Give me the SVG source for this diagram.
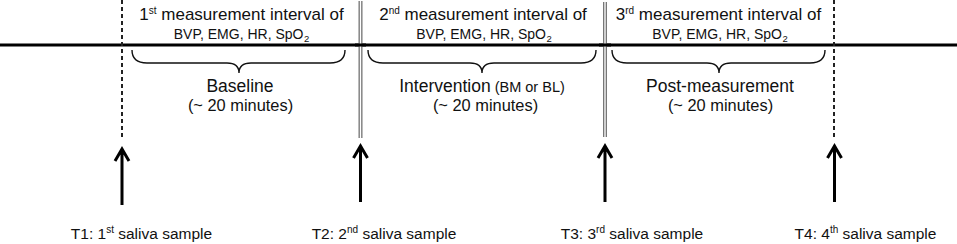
<svg xmlns="http://www.w3.org/2000/svg" width="957" height="244" viewBox="0 0 957 244">
<defs>
<style>
text{font-family:"Liberation Sans",Arial,sans-serif;fill:#111;text-anchor:middle}
.l1{font-size:17px}
.l2{font-size:14px}
.big{font-size:17.5px}
.small{font-size:14.5px}
.dur{font-size:16.4px}
.lab{font-size:15.5px}
.sup{font-size:10px}
.sub{font-size:9.5px}
.brace{fill:none;stroke:#111;stroke-width:1.4}
.dash{stroke:#222;stroke-width:2;stroke-dasharray:4 3}
.dbl-o{stroke:#777;stroke-width:4}
.dbl-i{stroke:#fff;stroke-width:1.3}
.arrow{fill:none;stroke:#000;stroke-width:3;stroke-linejoin:miter}
</style>
</defs>
<rect width="957" height="244" fill="#fff"/>
<g id="connectors">
<line x1="0" y1="45" x2="957" y2="45" stroke="#000" stroke-width="3"/>
<line class="dash" x1="122" y1="0" x2="122" y2="137"/>
<line class="dash" x1="834" y1="0" x2="834" y2="137"/>
<line class="dbl-o" x1="360.5" y1="1" x2="360.5" y2="138"/>
<line class="dbl-i" x1="360.5" y1="1" x2="360.5" y2="138"/>
<line class="dbl-o" x1="605" y1="2" x2="605" y2="137"/>
<line class="dbl-i" x1="605" y1="2" x2="605" y2="137"/>
<line x1="355" y1="45" x2="366" y2="45" stroke="#000" stroke-width="3"/>
<line x1="599" y1="45" x2="611" y2="45" stroke="#000" stroke-width="3"/>
<path class="arrow" d="M122,205 L122,150 M115,161 L122,149 L129,161"/>
<path class="arrow" d="M360.5,202 L360.5,147 M353.5,158 L360.5,146 L367.5,158"/>
<path class="arrow" d="M605,202 L605,147 M598,158 L605,146 L612,158"/>
<path class="arrow" d="M834.5,202 L834.5,147 M827.5,158 L834.5,146 L841.5,158"/>
</g>
<g id="interval-1">
<text class="l1" x="241.5" y="19.5">1<tspan class="sup" dy="-6">st</tspan><tspan dy="6"> measurement interval of</tspan></text>
<text class="l2" x="241.5" y="39">BVP, EMG, HR, SpO<tspan class="sub" dx="0.5" dy="3">2</tspan></text>
<path class="brace" d="M132,50 Q132,63 147,63 L227,63 Q239,63 239,73 Q239,63 251,63 L330,63 Q345,63 345,50"/>
<text class="big" x="240" y="91.5">Baseline</text>
<text class="dur" x="240.5" y="110.5">(~ 20 minutes)</text>
</g>
<g id="interval-2">
<text class="l1" x="483" y="19.5">2<tspan class="sup" dy="-6">nd</tspan><tspan dy="6"> measurement interval of</tspan></text>
<text class="l2" x="484" y="39">BVP, EMG, HR, SpO<tspan class="sub" dx="0.5" dy="3">2</tspan></text>
<path class="brace" d="M368,50 Q368,63 383,63 L470,63 Q482,63 482,73 Q482,63 494,63 L581,63 Q596,63 596,50"/>
<text class="big" x="482" y="91.5">Intervention<tspan class="small"> (BM or BL)</tspan></text>
<text class="dur" x="485.5" y="110.5">(~ 20 minutes)</text>
</g>
<g id="interval-3">
<text class="l1" x="718.5" y="19.5">3<tspan class="sup" dy="-6">rd</tspan><tspan dy="6"> measurement interval of</tspan></text>
<text class="l2" x="720" y="39">BVP, EMG, HR, SpO<tspan class="sub" dx="0.5" dy="3">2</tspan></text>
<path class="brace" d="M612,50 Q612,63 627,63 L707,63 Q719,63 719,73 Q719,63 731,63 L810,63 Q825,63 825,50"/>
<text class="big" x="720" y="91.5">Post-measurement</text>
<text class="dur" x="720.5" y="110.5">(~ 20 minutes)</text>
</g>
<g id="t1"><text class="lab" x="141.5" y="239">T1: 1<tspan class="sup" dy="-6">st</tspan><tspan dy="6"> saliva sample</tspan></text></g>
<g id="t2"><text class="lab" x="384" y="239">T2: 2<tspan class="sup" dy="-6">nd</tspan><tspan dy="6"> saliva sample</tspan></text></g>
<g id="t3"><text class="lab" x="632" y="239">T3: 3<tspan class="sup" dy="-6">rd</tspan><tspan dy="6"> saliva sample</tspan></text></g>
<g id="t4"><text class="lab" x="865.5" y="239">T4: 4<tspan class="sup" dy="-6">th</tspan><tspan dy="6"> saliva sample</tspan></text></g>
</svg>
